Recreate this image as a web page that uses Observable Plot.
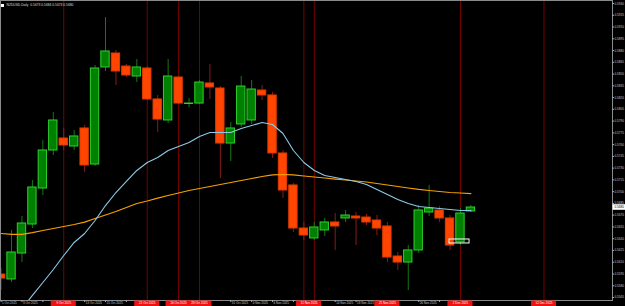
<!DOCTYPE html>
<html><head><meta charset="utf-8">
<script src="https://cdn.jsdelivr.net/npm/d3@7"></script>
<script src="https://cdn.jsdelivr.net/npm/@observablehq/plot@0.6"></script>
<style>html,body{margin:0;padding:0;background:#000;overflow:hidden}svg{display:block}</style>
</head><body><div id="chart"></div>
<script>
const symbolTitle = "NZDUSD,Daily  0.5673 0.5684 0.5673 0.5680";
const opens  = [0.55943,0.55880,0.56211,0.56581,0.57040,0.57525,0.57678,0.57576,0.57806,0.57346,0.58584,0.58762,0.58596,0.58469,0.58571,0.58176,0.57908,0.58456,0.58118,0.58124,0.58380,0.58316,0.57614,0.57857,0.57908,0.58290,0.58227,0.57487,0.57079,0.56530,0.56403,0.56505,0.56607,0.56658,0.56683,0.56670,0.56632,0.56556,0.56173,0.56096,0.56250,0.56734,0.56760,0.56658,0.56352,0.56747];
const highs  = [0.56020,0.56505,0.56683,0.57142,0.57653,0.58010,0.57806,0.57780,0.57844,0.58609,0.59221,0.58800,0.58622,0.58686,0.58596,0.58227,0.58686,0.58469,0.58188,0.58418,0.58622,0.58341,0.57882,0.58469,0.58418,0.58354,0.58265,0.57525,0.57104,0.56607,0.56607,0.56658,0.56721,0.56760,0.56734,0.56709,0.56696,0.56607,0.56224,0.56313,0.56823,0.57079,0.56811,0.56696,0.56785,0.56823];
const lows   = [0.55739,0.55841,0.56096,0.56530,0.56951,0.57461,0.57525,0.57525,0.57244,0.57321,0.58533,0.58354,0.58456,0.58392,0.58163,0.57755,0.57869,0.58112,0.58073,0.58112,0.58176,0.57168,0.57385,0.57818,0.57857,0.58163,0.57423,0.56913,0.56479,0.56377,0.56377,0.56428,0.56250,0.56607,0.56313,0.56568,0.56441,0.56096,0.55994,0.55739,0.56211,0.56683,0.56607,0.56250,0.56313,0.56734];
const closes = [0.55892,0.56224,0.56594,0.57053,0.57525,0.57908,0.57589,0.57704,0.57334,0.58571,0.58788,0.58533,0.58482,0.58584,0.58176,0.57920,0.58469,0.58124,0.58124,0.58392,0.58329,0.57614,0.57806,0.58341,0.58303,0.58227,0.57487,0.57015,0.56530,0.56441,0.56543,0.56607,0.56556,0.56696,0.56658,0.56607,0.56530,0.56160,0.56096,0.56250,0.56760,0.56785,0.56658,0.56313,0.56721,0.56798];
const maFastStart = 2;
const maFast = [0.55510,0.55676,0.55841,0.56007,0.56186,0.56352,0.56466,0.56632,0.56823,0.56989,0.57130,0.57270,0.57372,0.57436,0.57525,0.57576,0.57627,0.57704,0.57755,0.57755,0.57755,0.57806,0.57844,0.57882,0.57857,0.57742,0.57525,0.57372,0.57270,0.57206,0.57181,0.57155,0.57130,0.57091,0.57028,0.56964,0.56900,0.56849,0.56811,0.56798,0.56785,0.56772,0.56760,0.56760];
const maSlow = [0.56466,0.56454,0.56454,0.56477,0.56505,0.56530,0.56556,0.56581,0.56612,0.56658,0.56702,0.56747,0.56798,0.56849,0.56881,0.56918,0.56951,0.56983,0.57015,0.57040,0.57066,0.57091,0.57117,0.57142,0.57168,0.57193,0.57213,0.57219,0.57213,0.57200,0.57187,0.57174,0.57161,0.57149,0.57136,0.57123,0.57104,0.57085,0.57066,0.57047,0.57028,0.57015,0.57002,0.56989,0.56983,0.56976];
const eventBars = [6,14,17,19,29,30,44,52];
const eventLabelBars = [6,14,17,19,29.5,37,44,52];
const eventLabels = ["9 Oct 2025","21 Oct 2025","24 Oct 2025","28 Oct 2025","11 Nov 2025","21 Nov 2025","2 Dec 2025","12 Dec 2025"];
const dateLabelBars = [0,2,4,6,8,10,12,14,16,18,20,22,24,26,28,30,32,34,36,38,40,42,44];
const dateLabels = ["1 Oct 2025","3 Oct 2025","7 Oct 2025","9 Oct 2025","13 Oct 2025","15 Oct 2025","17 Oct 2025","21 Oct 2025","23 Oct 2025","27 Oct 2025","29 Oct 2025","31 Oct 2025","4 Nov 2025","6 Nov 2025","10 Nov 2025","12 Nov 2025","14 Nov 2025","18 Nov 2025","20 Nov 2025","24 Nov 2025","26 Nov 2025","28 Nov 2025","2 Dec 2025"];
const priceTicks = [0.5940,0.5925,0.5910,0.5895,0.5880,0.5865,0.5850,0.5835,0.5820,0.5805,0.5790,0.5775,0.5760,0.5745,0.5730,0.5715,0.5700,0.5685,0.5670,0.5655,0.5640,0.5625,0.5610,0.5595,0.5580,0.5565];
const lastPrice = 0.56798;
const boxBars = [42.95, 44.87];
const boxPrices = [0.56339, 0.56390];

const bars = opens.map((o, i) => ({i, o, h: highs[i], l: lows[i], c: closes[i], up: closes[i] >= o}));
const fast = maFast.map((v, k) => ({i: k + maFastStart, v}));
const slow = maSlow.map((v, i) => ({i, v}));
const halfBox = 1.2;
// date labels hidden under an event box are not drawn (as on the terminal)
const dates = dateLabelBars.map((b, k) => ({b, t: dateLabels[k]}))
  .filter(d => !eventLabelBars.some(e => d.b + 1.55 > e - halfBox && d.b + 0.1 < e + halfBox));
const events = eventLabelBars.map((b, k) => ({b, t: eventLabels[k]}));
const font = "Liberation Sans, Arial, sans-serif";

const chart = Plot.plot({
  width: 625, height: 306,
  marginLeft: 0, marginRight: 13, marginTop: 0, marginBottom: 6,
  style: {background: "#000", color: "#ccc", fontFamily: font, overflow: "visible"},
  x: {type: "linear", domain: [-0.05747, 58.5632], axis: null},
  y: {domain: [0.5561173, 0.5943827], axis: null},
  marks: [
    Plot.ruleX(eventBars, {x: d => d, stroke: "#7a0000", strokeWidth: 1}),
    Plot.ruleX(bars, {x: "i", y1: "l", y2: "h", stroke: d => d.up ? "#137a13" : "#8b1a1a", strokeWidth: 1, clip: true}),
    Plot.rect(bars, {x1: d => d.i - 0.4, x2: d => d.i + 0.4, y1: "o", y2: "c",
      fill: d => d.up ? "#008000" : "#ff4500", stroke: d => d.up ? "#2fcf2f" : "#e03c00", strokeWidth: 1, clip: true}),
    Plot.line(slow, {x: "i", y: "v", stroke: "#f5a000", strokeWidth: 1.2, clip: true}),
    Plot.line(fast, {x: "i", y: "v", stroke: "#8ccbe8", strokeWidth: 1.1, clip: true}),
    Plot.rect([0], {x1: boxBars[0], x2: boxBars[1], y1: boxPrices[0], y2: boxPrices[1], fill: "none", stroke: "#ffffff", strokeWidth: 1}),
    Plot.frame({stroke: "#8a8a8a", strokeWidth: 1}),
    // price axis
    Plot.ruleY(priceTicks, {y: d => d, stroke: "#aaa", insetLeft: 612, insetRight: -2}),
    Plot.text(priceTicks, {y: d => d, text: d => d.toFixed(4), frameAnchor: "right", dx: 2, textAnchor: "start", fontSize: 3.1, fill: "#c8c8c8"}),
    Plot.rect([lastPrice], {y1: d => d, y2: d => d, insetTop: -2.8, insetBottom: -2.8, insetLeft: 612.5, insetRight: -13, fill: "#ffffff"}),
    Plot.text([lastPrice], {y: d => d, text: d => d.toFixed(4), frameAnchor: "right", dx: 2, textAnchor: "start", fontSize: 3.1, fill: "#000"}),
    // time axis
    Plot.ruleX(dateLabelBars, {x: d => d, stroke: "#aaa", insetTop: 300, insetBottom: -2}),
    Plot.text(dates, {x: "b", text: "t", frameAnchor: "bottom", dy: 3, dx: 1, textAnchor: "start", fontSize: 3.0, fill: "#c8c8c8"}),
    Plot.rect(events, {x1: d => d.b - halfBox, x2: d => d.b + halfBox, insetTop: 300.5, insetBottom: -6, fill: "#ee1111"}),
    Plot.text(events, {x: "b", text: "t", frameAnchor: "bottom", dy: 3, fontSize: 3.0, fill: "#ffffff"}),
    // title
    Plot.rect([0], {insetLeft: 1, insetRight: 608, insetTop: 4, insetBottom: 293, fill: "#ffffff"}),
    Plot.text([symbolTitle], {text: d => d, frameAnchor: "top-left", dx: 6, dy: 3, textAnchor: "start", lineAnchor: "top", fontSize: 3.3, fill: "#dddddd"})
  ]
});
document.getElementById("chart").appendChild(chart);
</script>
</body></html>
